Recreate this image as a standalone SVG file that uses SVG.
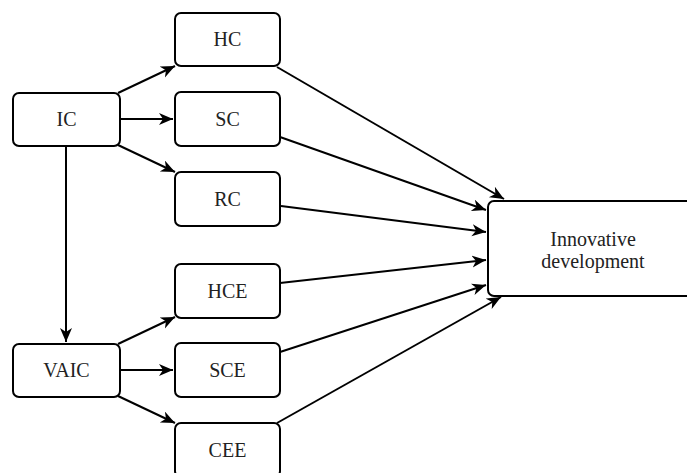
<svg xmlns="http://www.w3.org/2000/svg" width="687" height="473" viewBox="0 0 687 473">
<defs>
<marker id="arr" markerUnits="userSpaceOnUse" markerWidth="16" markerHeight="14" refX="14" refY="6" orient="auto">
<path d="M0,0 L14,6 L0,12 L4,6 z" fill="#000"/>
</marker>
<style>
.box{fill:#fff;stroke:#000;stroke-width:2}
.lbl{font-family:"Liberation Serif","DejaVu Serif",serif;font-size:20px;fill:#222;text-anchor:middle}
.edge{fill:none;stroke:#000;stroke-width:2;marker-end:url(#arr)}
</style>
</defs>
<rect width="687" height="473" fill="#fff"/>
<g id="connectors">
<path class="edge" d="M118,93 L175,66"/>
<path class="edge" d="M120,119 L173,119"/>
<path class="edge" d="M118,145 L175,172"/>
<path class="edge" d="M66,146 L66,342"/>
<path class="edge" d="M118,344 L175,317"/>
<path class="edge" d="M120,370 L173,370"/>
<path class="edge" d="M118,396 L175,423"/>
<path class="edge" d="M277,67 L504,199"/>
<path class="edge" d="M280,137 L486,210"/>
<path class="edge" d="M281,206 L486,232"/>
<path class="edge" d="M280,283 L486,260"/>
<path class="edge" d="M280,352 L486,285"/>
<path class="edge" d="M277,423 L501,297"/>
</g>
<g id="IC"><rect class="box" x="13" y="93" width="107" height="53" rx="6"/><text class="lbl" x="66.5" y="126">IC</text></g>
<g id="HC"><rect class="box" x="175" y="13" width="105" height="53" rx="6"/><text class="lbl" x="227.5" y="46">HC</text></g>
<g id="SC"><rect class="box" x="175" y="92" width="105" height="54" rx="6"/><text class="lbl" x="227.5" y="126">SC</text></g>
<g id="RC"><rect class="box" x="175" y="172" width="105" height="54" rx="6"/><text class="lbl" x="227.5" y="206">RC</text></g>
<g id="HCE"><rect class="box" x="175" y="264" width="105" height="54" rx="6"/><text class="lbl" x="227.5" y="298">HCE</text></g>
<g id="SCE"><rect class="box" x="175" y="343" width="105" height="54" rx="6"/><text class="lbl" x="227.5" y="377">SCE</text></g>
<g id="CEE"><rect class="box" x="175" y="423" width="105" height="54" rx="6"/><text class="lbl" x="227.5" y="457">CEE</text></g>
<g id="VAIC"><rect class="box" x="13" y="344" width="107" height="53" rx="6"/><text class="lbl" x="66.5" y="377">VAIC</text></g>
<g id="ID"><rect class="box" x="488" y="201" width="212" height="95" rx="6"/><text class="lbl" x="593" y="246">Innovative</text><text class="lbl" x="593" y="268">development</text></g>
</svg>
